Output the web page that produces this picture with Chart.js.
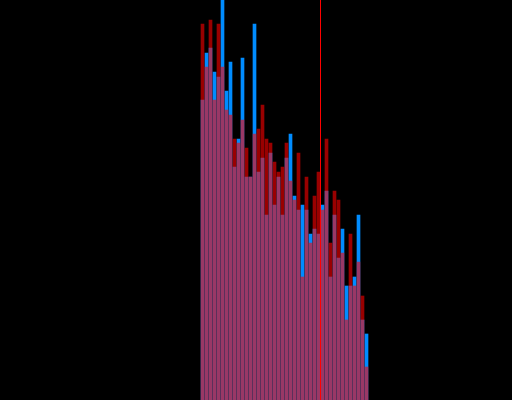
<!DOCTYPE html>
<html>
<head>
<meta charset="utf-8">
<script src="https://cdn.jsdelivr.net/npm/chart.js@4"></script>
<style>
  html,body{margin:0;padding:0;background:#000;}
  #wrap{width:512px;height:400px;}
</style>
</head>
<body>
<div id="wrap"><canvas id="chart" width="512" height="400"></canvas></div>
<script>
/* ================= Data ================= */
const bins = [50,51,52,53,54,55,56,57,58,59,60,61,62,63,64,65,66,67,68,69,70,
              71,72,73,74,75,76,77,78,79,80,81,82,83,84,85,86,87,88,89,90,91];

const redCounts = [94,83.25,95,75,94,83.25,72.5,71.25,65.25,64.25,70,63,55.75,66.5,
  67.75,73.75,65.25,64.25,59.5,57,58.25,64.25,54.75,50,61.75,30.75,55.75,39.25,51,
  57,47.5,65.25,39.25,52.25,50,36.75,20,41.5,28.5,34.5,26,8.25];

const blueCounts = [75,86.75,88,82,80.75,103,77.25,84.5,58.25,65.25,85.5,55.75,55.75,94,
  57,60.5,46.25,61.75,48.75,55.75,46.25,60.5,66.5,51,47.5,48.75,47.5,41.5,42.75,41.5,
  48.75,52.25,30.75,46.25,35.5,42.75,28.5,28.5,30.75,46.25,20,16.5];

const meanLine = 79.5;

/* ================= Mean line plugin ================= */
const meanPlugin = {
  id: 'meanLine',
  afterDatasetsDraw(chart){
    const c = chart.ctx, a = chart.chartArea;
    const x = chart.scales.x.getPixelForValue(meanLine);
    c.save();
    c.strokeStyle = '#ff0000';
    c.lineWidth = 1;
    c.beginPath();
    c.moveTo(x, a.top);
    c.lineTo(x, a.bottom);
    c.stroke();
    c.restore();
  }
};

/* ================= Chart ================= */
new Chart(document.getElementById('chart'), {
  type: 'bar',
  data: {
    datasets: [{
      label: 'red',
      data: bins.map((b,i)=>({x:b, y:redCounts[i]})),
      backgroundColor: 'rgba(255,0,0,0.6)',
      grouped: false,
      barThickness: 3
    },{
      label: 'blue',
      data: bins.map((b,i)=>({x:b, y:blueCounts[i]})),
      backgroundColor: 'rgb(0,140,255)',
      grouped: false,
      barThickness: 3
    }]
  },
  options: {
    responsive: false,
    animation: false,
    layout: {padding: 0},
    plugins: {legend: {display: false}, tooltip: {enabled: false}},
    scales: {
      x: {type: 'linear', min: -0.625, max: 127.375, display: false, offset: false},
      y: {min: 0, max: 100, display: false}
    }
  },
  plugins: [meanPlugin]
});
</script>
</body>
</html>
